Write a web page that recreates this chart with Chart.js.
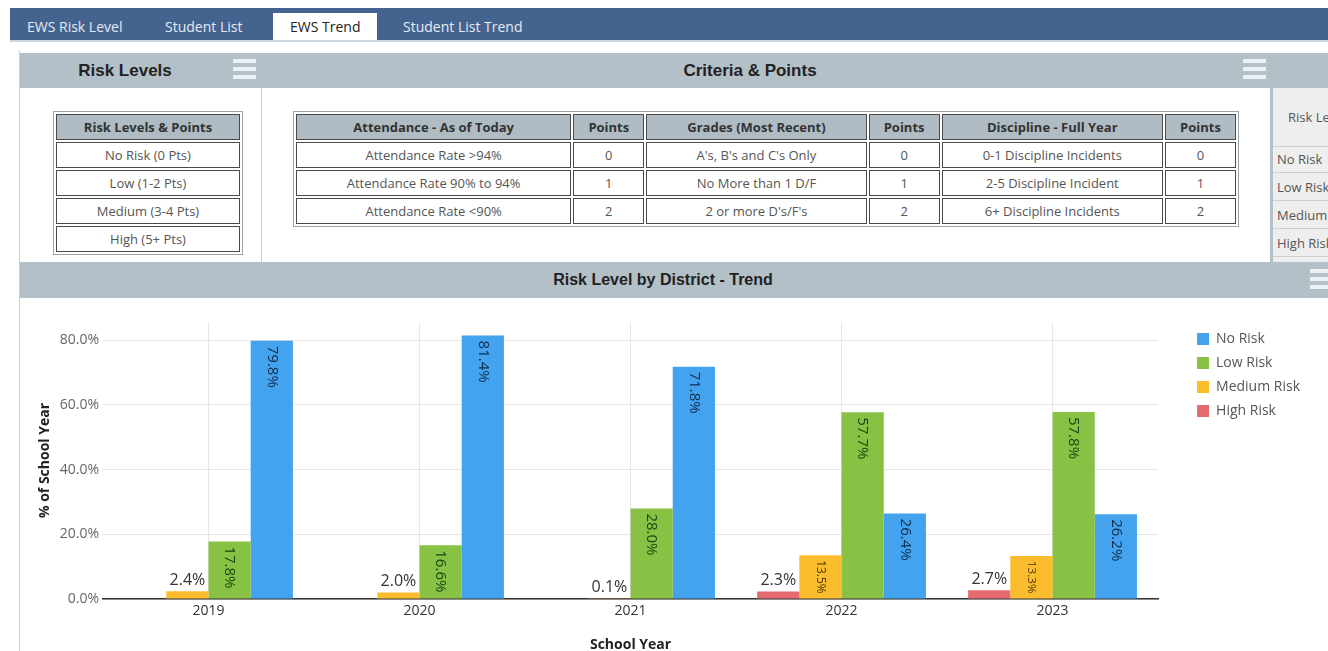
<!DOCTYPE html>
<html>
<head>
<meta charset="utf-8">
<title>EWS Trend</title>
<script src="https://cdn.jsdelivr.net/npm/chart.js"></script>
<style>
  body { margin: 0; width: 1328px; height: 651px; overflow: hidden; background: #fff; font-family: "Open Sans", sans-serif; position: relative; }
  .nav { position: absolute; left: 10px; top: 8px; width: 1318px; height: 32px; background: #44648f; border-bottom: 2px solid #cfd8e2; }
  .tab { position: absolute; top: 5px; height: 27px; line-height: 27px; font-size: 14px; color: #e4eaf2; white-space: nowrap; }
  .tab.on { background: #fff; color: #222; padding: 0 17px; }
  .frame { position: absolute; left: 19px; top: 50px; width: 1px; height: 601px; background: #c9d0d5; }
  .hdr { position: absolute; left: 20px; width: 1308px; height: 35px; background: #b3c0c7; }
  .ttl { position: absolute; top: 0; height: 35px; line-height: 35px; font-family: "Liberation Sans", Arial, sans-serif; font-weight: bold; color: #222; white-space: nowrap; transform: translateX(-50%); }
  .burger { position: absolute; width: 23px; }
  .burger i { display: block; height: 4px; background: #eef2f4; margin-bottom: 4px; }
  .divider { position: absolute; left: 261px; top: 88px; width: 1px; height: 174px; background: #c9d0d5; }
  table.grid { position: absolute; border-collapse: separate; border-spacing: 2px; border: 1px solid #9aa3a8; table-layout: fixed; }
  table.grid td, table.grid th { border: 1px solid #4a4a4a; height: 24px; padding: 0; font-size: 13px; color: #555; text-align: center; white-space: nowrap; overflow: hidden; }
  table.grid th { background: #afbcc4; color: #333; font-weight: bold; }
  .side { position: absolute; left: 1270px; top: 88px; width: 58px; height: 174px; background: #eeeeee; border-left: 3px solid #b3c0c7; box-sizing: border-box; }
  .side div { position: absolute; left: 4px; width: 60px; font-size: 13px; color: #555; white-space: nowrap; }
  .side .ln { border-top: 1px solid #cfcfcf; height: 0; left: 0; }
  #wrap { position: absolute; left: 20px; top: 298px; width: 1308px; height: 360px; }
</style>
</head>
<body>
<div class="nav">
  <div class="tab" style="left:17px">EWS Risk Level</div>
  <div class="tab" style="left:155px">Student List</div>
  <div class="tab on" style="left:263px">EWS Trend</div>
  <div class="tab" style="left:393px">Student List Trend</div>
</div>
<div class="frame"></div>

<div class="hdr" style="top:53px">
  <div class="ttl" style="left:105px;font-size:17px">Risk Levels</div>
  <div class="burger" style="left:213px;top:6px"><i></i><i></i><i></i></div>
  <div class="ttl" style="left:730px;font-size:17px">Criteria &amp; Points</div>
  <div class="burger" style="left:1223px;top:6px"><i></i><i></i><i></i></div>
</div>
<div class="divider"></div>

<table class="grid" style="left:53px;top:111px;width:190px">
  <tr><th>Risk Levels &amp; Points</th></tr>
  <tr><td>No Risk (0 Pts)</td></tr>
  <tr><td>Low (1-2 Pts)</td></tr>
  <tr><td>Medium (3-4 Pts)</td></tr>
  <tr><td>High (5+ Pts)</td></tr>
</table>

<table class="grid" style="left:293px;top:111px;width:946px">
  <colgroup><col style="width:275px"><col style="width:71px"><col style="width:220px"><col style="width:71px"><col style="width:221px"><col style="width:71px"></colgroup>
  <tr><th>Attendance - As of Today</th><th>Points</th><th>Grades (Most Recent)</th><th>Points</th><th>Discipline - Full Year</th><th>Points</th></tr>
  <tr><td>Attendance Rate &gt;94%</td><td>0</td><td>A's, B's and C's Only</td><td>0</td><td>0-1 Discipline Incidents</td><td>0</td></tr>
  <tr><td>Attendance Rate 90% to 94%</td><td>1</td><td>No More than 1 D/F</td><td>1</td><td>2-5 Discipline Incident</td><td>1</td></tr>
  <tr><td>Attendance Rate &lt;90%</td><td>2</td><td>2 or more D's/F's</td><td>2</td><td>6+ Discipline Incidents</td><td>2</td></tr>
</table>

<div class="side">
  <div style="top:20px;left:15px">Risk Levels</div>
  <div class="ln" style="top:58px"></div>
  <div style="top:62px">No Risk</div>
  <div class="ln" style="top:84px"></div>
  <div style="top:90px">Low Risk</div>
  <div class="ln" style="top:112px"></div>
  <div style="top:118px">Medium Risk</div>
  <div class="ln" style="top:140px"></div>
  <div style="top:146px">High Risk</div>
  <div class="ln" style="top:168px"></div>
</div>

<div class="hdr" style="top:262px;height:36px">
  <div class="ttl" style="left:643px;font-size:16px;height:36px;line-height:36px">Risk Level by District - Trend</div>
  <div class="burger" style="left:1290px;top:7px"><i></i><i></i><i></i></div>
</div>

<div id="wrap"><canvas id="trendChart"></canvas></div>

<script>
// school years and % of students in each risk level
const years = ['2019', '2020', '2021', '2022', '2023'];
const highRisk = [0, 0, 0, 2.3, 2.7];
const mediumRisk = [2.4, 2.0, 0.1, 13.5, 13.3];
const lowRisk = [17.8, 16.6, 28.0, 57.7, 57.8];
const noRisk = [79.8, 81.4, 71.8, 26.4, 26.2];
const yTickValues = [0, 20, 40, 60, 80];

const labelColors = ['#5a1a1a', '#4a3500', '#1d4410', '#0f2c4a'];

// value labels: rotated inside the bar when it fits, otherwise flat on top
const barLabels = {
    id: 'barLabels',
    afterDatasetsDraw: function (chart) {
        const ctx = chart.ctx;
        chart.data.datasets.forEach(function (ds, i) {
            chart.getDatasetMeta(i).data.forEach(function (bar, j) {
                const v = ds.data[j];
                if (!v) return;
                const txt = v.toFixed(1) + '%';
                const h = bar.base - bar.y;
                ctx.save();
                ctx.font = '15px "Open Sans"';
                const w = ctx.measureText(txt).width;
                let size = 15;
                if (w > h - 10) size = 15 * (h - 10) / w;
                if (size >= 8) {
                    ctx.translate(bar.x, bar.y + 5);
                    ctx.rotate(Math.PI / 2);
                    ctx.font = size + 'px "Open Sans"';
                    ctx.fillStyle = labelColors[i];
                    ctx.textAlign = 'left';
                    ctx.textBaseline = 'middle';
                    ctx.fillText(txt, 0, 0);
                } else {
                    ctx.font = '16px "Open Sans"';
                    ctx.fillStyle = '#333';
                    ctx.textAlign = 'center';
                    ctx.textBaseline = 'bottom';
                    ctx.fillText(txt, bar.x, bar.y - 3);
                }
                ctx.restore();
            });
        });
    }
};

const ctx = document.getElementById('trendChart').getContext('2d');
new Chart(ctx, {
    type: 'bar',
    data: {
        labels: years,
        datasets: [
            { label: 'High Risk', data: highRisk, backgroundColor: '#e46c70' },
            { label: 'Medium Risk', data: mediumRisk, backgroundColor: '#fbbd2d' },
            { label: 'Low Risk', data: lowRisk, backgroundColor: '#88c245' },
            { label: 'No Risk', data: noRisk, backgroundColor: '#44a3ef' }
        ]
    },
    options: {
        responsive: true,
        maintainAspectRatio: false,
        animation: false,
        datasets: { bar: { categoryPercentage: 0.8, barPercentage: 1.0 } },
        layout: { padding: { top: 24, left: 17, right: 18, bottom: 5 } },
        plugins: {
            tooltip: { enabled: false },
            legend: {
                position: 'right',
                align: 'start',
                reverse: true,
                labels: {
                    boxWidth: 12,
                    boxHeight: 12,
                    padding: 10,
                    color: '#555',
                    font: { family: 'Open Sans', size: 14 }
                }
            }
        },
        scales: {
            x: {
                grid: { offset: false, color: '#e6e6e6', drawTicks: false },
                border: { color: '#333', width: 1.5 },
                ticks: { color: '#333', padding: 4, font: { family: 'Open Sans', size: 14 } },
                title: { display: true, text: 'School Year', color: '#222', padding: 0, font: { family: 'Open Sans', size: 14, weight: 'bold' } },
                afterFit: function (axis) { axis.height = 54; }
            },
            y: {
                min: 0,
                max: 85.6,
                grid: { color: '#e6e6e6', drawTicks: false },
                border: { display: false },
                ticks: {
                    stepSize: 20,
                    padding: 4,
                    color: '#666',
                    font: { family: 'Open Sans', size: 14 },
                    callback: function (v) { return v.toFixed(1) + '%'; }
                },
                afterBuildTicks: function (axis) {
                    axis.ticks = yTickValues.map(function (v) { return { value: v }; });
                },
                title: { display: true, text: '% of School Year', color: '#222', padding: 0, font: { family: 'Open Sans', size: 14, weight: 'bold' } },
                afterFit: function (axis) { axis.width = 66; }
            },
            gap: {
                type: 'linear',
                position: 'right',
                grid: { display: false },
                border: { display: false },
                ticks: { display: false },
                afterFit: function (axis) { axis.width = 29; }
            }
        }
    },
    plugins: [barLabels]
});
</script>
</body>
</html>
